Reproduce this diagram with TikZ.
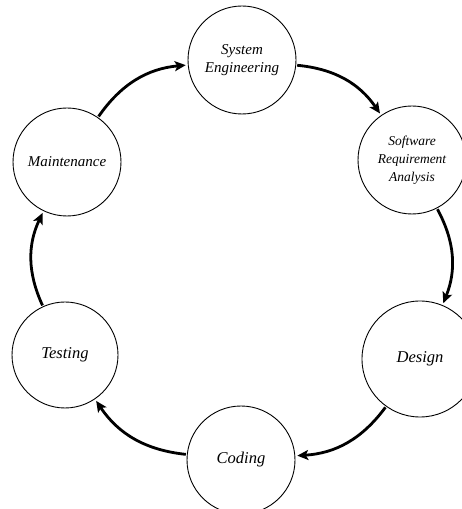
\documentclass[tikz,border=0pt]{standalone}
\usepackage{fontspec}
\setmainfont{Liberation Serif}
\usetikzlibrary{arrows.meta}
\begin{document}
\begin{tikzpicture}[x=1pt,y=1pt,
  phase/.style={circle,draw,line width=0.9pt,minimum size=108pt,inner sep=0pt,
    align=center,font=\itshape\fontsize{15}{18.5}\selectfont},
  flow/.style={line width=2.8pt,-{Stealth[length=11pt,width=10pt,inset=2.5pt]},
    shorten >=2pt,shorten <=1pt,bend left=25}]
\useasboundingbox (0,0) rectangle (462,509);
% the six phases, arranged around a ring
\node[phase] (se)   at (242,449) {System\\Engineering};
\node[phase,font=\itshape\fontsize{13.5}{18}\selectfont] (sra) at (412,349) {Software\\Requirement\\Analysis};
\node[phase,minimum size=116pt,font=\itshape\fontsize{16.5}{19}\selectfont] (des) at (420,150) {Design};
\node[phase,font=\itshape\fontsize{16.5}{19}\selectfont] (cod) at (241,49) {Coding};
\node[phase,minimum size=106pt,font=\itshape\fontsize{16.5}{19}\selectfont] (tst) at (65,154) {Testing};
\node[phase] (mnt)  at (67,347) {Maintenance};
% clockwise flow between phases
\draw[flow] (mnt) to (se);
\draw[flow] (se)  to (sra);
\draw[flow] (sra) to (des);
\draw[flow] (des) to (cod);
\draw[flow] (cod) to (tst);
\draw[flow] (tst) to (mnt);
\end{tikzpicture}
\end{document}
